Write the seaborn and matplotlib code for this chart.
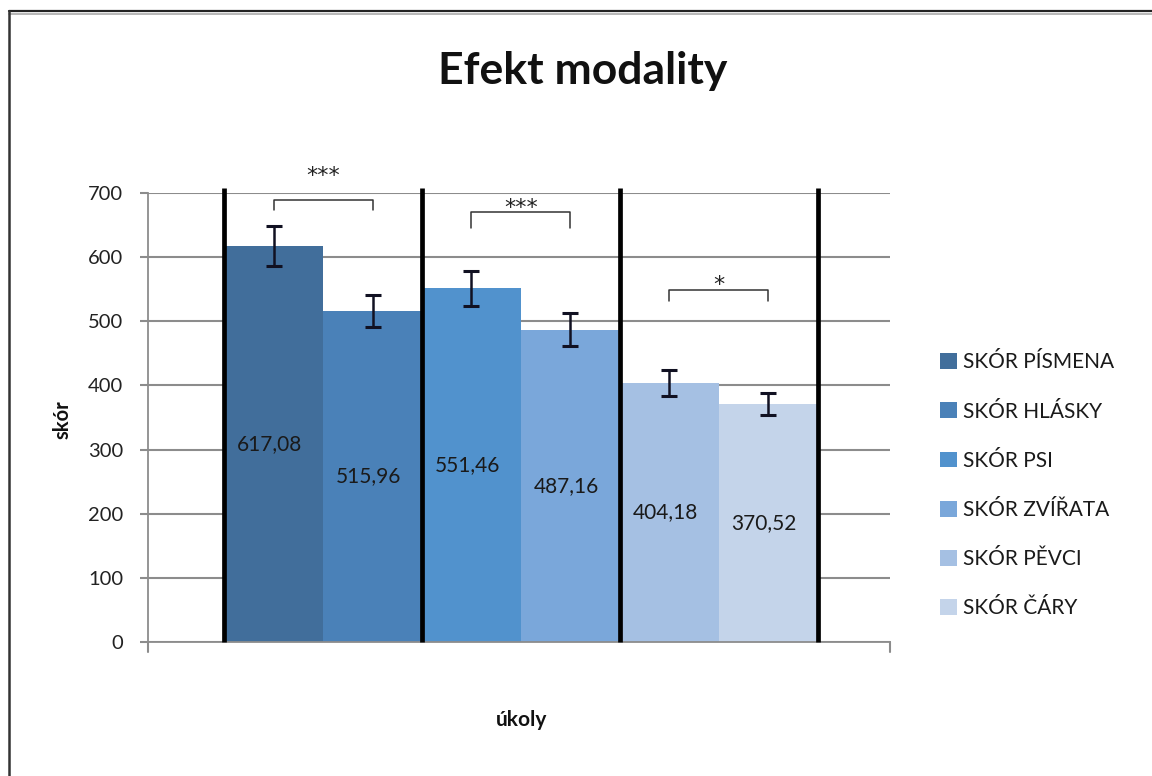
import numpy as np
import pandas as pd
import seaborn as sns
import matplotlib.pyplot as plt
from matplotlib.patches import Patch
from matplotlib.lines import Line2D

# data
kategorie = ['SKÓR PÍSMENA', 'SKÓR HLÁSKY', 'SKÓR PSI', 'SKÓR ZVÍŘATA', 'SKÓR PĚVCI', 'SKÓR ČÁRY']
skore = [617.08, 515.96, 551.46, 487.16, 404.18, 370.52]
chyby = [31, 25, 27, 25, 20, 17]
barvy = ['#416e9b', '#4a81b8', '#5192cd', '#7aa7da', '#a5c0e3', '#c4d4ea']

# significance brackets: (bar a, bar b, y line, y legs, y text, stars)
vyznamnost_par = [(0, 1), (2, 3), (4, 5)]
vyznamnost_y = [689, 671, 548]
vyznamnost_nohy = [674, 645, 531]
vyznamnost_text = [726, 676, 556]
vyznamnost_hvezdy = ['***', '***', '*']

sns.set_theme(style='white')
plt.rcParams['font.family'] = ['Lato', 'DejaVu Sans']

df = pd.DataFrame({'kat': kategorie, 'skore': skore})

fig = plt.figure(figsize=(11.52, 7.76), dpi=100)
ax = fig.add_axes([0.1285, 0.1727, 0.644, 0.5786])

sns.barplot(data=df, x='kat', y='skore', hue='kat', palette=barvy, width=1.0,
            errorbar=None, legend=False, ax=ax, saturation=1, zorder=2)
for p in ax.patches:
    p.set_edgecolor('none')

x = np.arange(len(kategorie))
ax.errorbar(x, skore, yerr=chyby, fmt='none', ecolor='#111122', elinewidth=1.8,
            capsize=5.5, capthick=2.2, zorder=4)

# value labels in bar centre
for xi, v in zip(x, skore):
    ax.text(xi - 0.04, v / 2, f'{v:.2f}'.replace('.', ','), ha='center', va='center',
            fontsize=15, color='#1a1a1a', zorder=5)

# thick separators
for xs in [-0.5, 1.5, 3.5, 5.5]:
    ax.plot([xs, xs], [0, 708], color='black', lw=3.4, clip_on=False, zorder=3,
            solid_capstyle='butt')

# brackets
for (a, b), yl, yn, yt, s in zip(vyznamnost_par, vyznamnost_y, vyznamnost_nohy,
                                 vyznamnost_text, vyznamnost_hvezdy):
    ax.plot([a, a, b, b], [yn, yl, yl, yn], color='#333333', lw=1.1, clip_on=False, zorder=4)
    ax.text((a + b) / 2, yt, s, ha='center', va='center', fontsize=16, color='#222222',
            family='DejaVu Sans')

ax.set_xlim(-1.27, 6.23)
ax.set_ylim(0, 700)
ax.set_yticks(range(0, 701, 100))
ax.set_xticks([])
ax.yaxis.grid(True, color='#8c8c8c', lw=1.5, zorder=0)
ax.set_axisbelow(True)
ax.tick_params(axis='y', length=6, width=1.5, color='#8c8c8c', pad=12, labelsize=14.5,
               labelcolor='#222222', left=True)
for s in ['top', 'right']:
    ax.spines[s].set_visible(False)
for s in ['left', 'bottom']:
    ax.spines[s].set_color('#8c8c8c')
    ax.spines[s].set_linewidth(1.3)
# category axis end ticks
for xe in [-1.27, 6.23]:
    ax.plot([xe, xe], [0, -15], color='#8c8c8c', lw=1.5, clip_on=False)
ax.set_xlabel('')
ax.set_ylabel('')

fig.text(0.054, 0.459, 'skór', rotation=90, ha='center', va='center', fontsize=14.5,
         fontweight='bold', color='#111111')
fig.text(0.453, 0.072, 'úkoly', ha='center', va='center', fontsize=15,
         fontweight='bold', color='#111111')
fig.text(0.506, 0.908, 'Efekt modality', ha='center', va='center', fontsize=32,
         fontweight='bold', color='#111111')

handles = [Patch(facecolor=c, edgecolor='none') for c in barvy]
fig.legend(handles, kategorie, loc='upper left', bbox_to_anchor=(0.8, 0.57),
           frameon=False, fontsize=15, labelspacing=1.4, handlelength=0.8,
           handleheight=0.8, handletextpad=0.3, labelcolor='#1a1a1a')

# outer frame
fig.add_artist(Line2D([0.008, 1.0], [0.986, 0.986], color='#222222', lw=1.6))
fig.add_artist(Line2D([0.008, 1.0], [0.982, 0.982], color='#aaaaaa', lw=1.2))
fig.add_artist(Line2D([0.008, 0.008], [0.0, 0.986], color='#333333', lw=1.8))

fig.savefig('out.png', dpi=100, facecolor='white')
